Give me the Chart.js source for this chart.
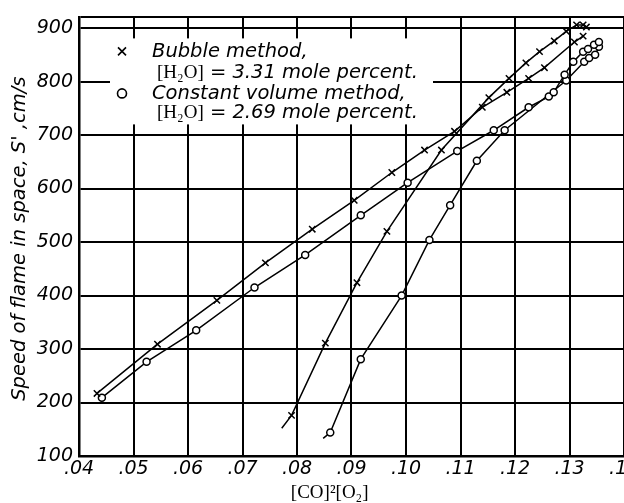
<!DOCTYPE html>
<html><head><meta charset="utf-8">
<script src="https://cdn.jsdelivr.net/npm/chart.js@4.4.0/dist/chart.umd.min.js"></script>
<style>html,body{margin:0;padding:0;background:#fff;overflow:hidden;width:624px;height:503px}canvas{display:block}</style>
</head><body><canvas id="c" width="660" height="503"></canvas>
<script>
// ---- data ----
const xTickLabels = ['.04','.05','.06','.07','.08','.09','.10','.11','.12','.13','.14'];
const yTickValues = [100,200,300,400,500,600,700,800,900];

// Bubble method: shallow branch joining the lower x-curve near the top
const bubbleAX = [0.0433,0.0544,0.0653,0.0742,0.0828,0.0905,0.0974,0.1034,0.1089,0.1140,0.1185,0.1225,0.1254,0.1309,0.1325];
const bubbleAY = [217,309,391,461,524,578,630,672,707,752,780,806,826,874,885];
// Bubble method: steep branch joining the upper x-curve
const bubbleBX = [0.0790,0.0852,0.0910,0.0965,0.1065,0.1152,0.1189,0.1220,0.1245,0.1272,0.1294,0.1313,0.1325,0.1331];
const bubbleBY = [176,311,424,520,672,770,806,835,856,876,894,906,906,902];
const bubbleBStart = [0.0772,152];

// Constant volume method: shallow branch
const constCX = [0.0442,0.0524,0.0615,0.0722,0.0815,0.0917,0.1003,0.1094,0.1161,0.1225,0.1262,0.1271,0.1291,0.1307,0.1325,0.1334,0.1345,0.1354];
const constCY = [209,276,335,415,476,550,611,670,709,752,772,780,813,837,856,861,869,874];
// Constant volume method: steep branch
const constDX = [0.0861,0.0917,0.0992,0.1043,0.1081,0.1130,0.1181,0.1294,0.1327,0.1336,0.1347,0.1354];
const constDY = [144,281,400,504,569,652,709,802,837,844,850,865];
const constDStart = [0.0848,133];

const legendLines = [
  {marker:'x', text:'Bubble method,'},
  {marker:null, pre:'[H\u2082O]', text:' = 3.31 mole percent.'},
  {marker:'o', text:'Constant volume method,'},
  {marker:null, pre:'[H\u2082O]', text:' = 2.69 mole percent.'}
];
const yTitle = "Speed of flame in space, S' ,cm/s";
const xTitle = '[CO]\u00B2[O\u2082]';

function pts(xs, ys, start){
  const p = xs.map((x,i)=>({x:x,y:ys[i]}));
  if(start) p.unshift({x:start[0],y:start[1],ext:true});
  return p;
}
function radiusFn(r){ return ctx => (ctx.raw && ctx.raw.ext) ? 0 : r; }

Chart.defaults.font.family = '"DejaVu Sans"';
Chart.defaults.font.size = 19;
Chart.defaults.font.style = 'italic';
Chart.defaults.color = '#000';

const overlay = {
  id:'overlay',
  beforeDatasetsDraw(chart){
    const c = chart.ctx, a = chart.chartArea;
    c.save();
    c.fillStyle = '#fff';
    c.fillRect(a.left+31, a.top+21, 323, 86);
    const lx = a.left + 43, tx = a.left + 73;
    const base = [a.top+40, a.top+61, a.top+82, a.top+101];
    legendLines.forEach((l,i)=>{
      const y = base[i];
      c.fillStyle = '#000'; c.strokeStyle = '#000'; c.lineWidth = 1.6;
      if(l.marker==='x'){
        c.beginPath(); c.moveTo(lx-4,y-10); c.lineTo(lx+4,y-2); c.moveTo(lx+4,y-10); c.lineTo(lx-4,y-2); c.stroke();
      } else if(l.marker==='o'){
        c.beginPath(); c.arc(lx,y-6,4.5,0,Math.PI*2); c.stroke();
      }
      let x = tx;
      c.textBaseline = 'alphabetic'; c.textAlign = 'left';
      if(l.pre){
        x = tx + 5;
        c.font = '19px "Liberation Serif"';
        c.fillText(l.pre, x, y);
        x += c.measureText(l.pre).width;
      }
      c.font = 'italic 19.5px "DejaVu Sans"';
      c.fillText(l.text, x, y);
    });
    c.restore();
  },
  afterDraw(chart){
    const c = chart.ctx, a = chart.chartArea;
    c.save();
    c.fillStyle = '#000';
    c.translate(20, (a.top+a.bottom)/2 + 2);
    c.rotate(-Math.PI/2);
    c.font = 'italic 19.5px "DejaVu Sans"';
    c.textAlign = 'center'; c.textBaseline = 'middle';
    c.fillText(yTitle, 0, 0);
    c.restore();
    c.save();
    c.fillStyle = '#000';
    c.font = '19px "Liberation Serif"';
    c.textAlign = 'center'; c.textBaseline = 'alphabetic';
    c.fillText(xTitle, a.left + (a.right-a.left)*0.46, a.bottom + 42);
    c.restore();
  }
};

const lineStyle = {borderColor:'#000', borderWidth:1.5, showLine:true, tension:0, pointBorderColor:'#000', pointBorderWidth:1.5};

new Chart(document.getElementById('c'), {
  type:'scatter',
  data:{datasets:[
    Object.assign({label:'Bubble A', data:pts(bubbleAX,bubbleAY), pointStyle:'crossRot', pointRadius:radiusFn(4.5)}, lineStyle),
    Object.assign({label:'Bubble B', data:pts(bubbleBX,bubbleBY,bubbleBStart), pointStyle:'crossRot', pointRadius:radiusFn(4.5)}, lineStyle),
    Object.assign({label:'Const C', data:pts(constCX,constCY), pointStyle:'circle', pointRadius:radiusFn(3.5), pointBackgroundColor:'#fff'}, lineStyle),
    Object.assign({label:'Const D', data:pts(constDX,constDY,constDStart), pointStyle:'circle', pointRadius:radiusFn(3.5), pointBackgroundColor:'#fff'}, lineStyle)
  ]},
  options:{
    responsive:false, animation:false, devicePixelRatio:1,
    layout:{padding:{left:0, top:13, right:36, bottom:0}},
    plugins:{legend:{display:false}, tooltip:{enabled:false}},
    scales:{
      x:{type:'linear', min:0.04, max:0.14,
        afterFit(s){ s.height = 47; },
        afterBuildTicks(s){ s.ticks = xTickLabels.map((t,i)=>({value:0.04+i*0.01})); },
        ticks:{color:'#000', font:{size:19, style:'italic'}, padding:2, maxRotation:0, autoSkip:false,
          callback:(v)=> xTickLabels[Math.round((v-0.04)*100)]},
        grid:{color:'#000', lineWidth:2, drawTicks:false},
        border:{color:'#000', width:2.5}
      },
      y:{type:'linear', min:100, max:920,
        afterFit(s){ s.width = 79; },
        afterBuildTicks(s){ s.ticks = yTickValues.map(v=>({value:v})).concat([{value:920}]); },
        ticks:{color:'#000', font:{size:19, style:'italic'}, padding:6, autoSkip:false,
          callback:(v)=> v===920 ? '' : String(v)},
        grid:{color:'#000', lineWidth:2, drawTicks:false},
        border:{color:'#000', width:2.5}
      }
    }
  },
  plugins:[overlay]
});
</script></body></html>
